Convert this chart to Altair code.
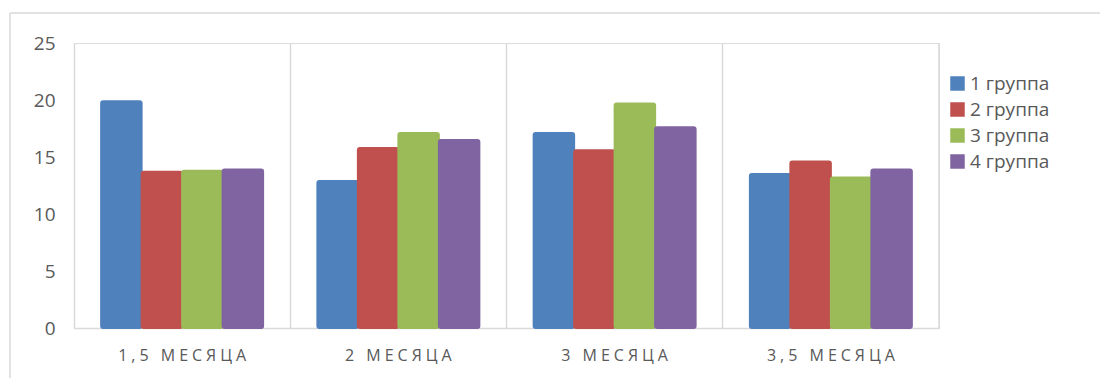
import altair as alt
import pandas as pd

categories = ["1,5 МЕСЯЦА", "2 МЕСЯЦА", "3 МЕСЯЦА", "3,5 МЕСЯЦА"]
groups = ["1 группа", "2 группа", "3 группа", "4 группа"]
g1 = [19.9, 12.9, 17.1, 13.5]
g2 = [13.7, 15.8, 15.6, 14.6]
g3 = [13.8, 17.1, 19.7, 13.2]
g4 = [13.9, 16.5, 17.6, 13.9]
colors = ["#4F81BD", "#C0504D", "#9BBB59", "#8064A2"]
y_ticks = [0, 5, 10, 15, 20, 25]

rows = []
for gname, vals in zip(groups, [g1, g2, g3, g4]):
    for c, v in zip(categories, vals):
        rows.append({"period": c, "group": gname, "value": v})
df = pd.DataFrame(rows)

W, H = 865, 285
FONT = "Open Sans"
GRAY = "#595959"

bars = alt.Chart(df).mark_bar(cornerRadius=2, width=alt.RelativeBandSize(1.0), strokeWidth=2).encode(
    x=alt.X("period:N", sort=categories, title=None,
            scale=alt.Scale(paddingInner=0, paddingOuter=0),
            axis=alt.Axis(labelAngle=0, labelFont=FONT, labelFontSize=16, labelColor=GRAY,
                          labelPadding=19, ticks=False, domainColor="#D9D9D9", domainWidth=1.5,
                          grid=True, gridColor="#D9D9D9", gridWidth=1.5, bandPosition=0,
                          labelExpr="join(split(datum.label, ''), '\u2005')")),
    xOffset=alt.XOffset("group:N", sort=groups,
                        scale=alt.Scale(paddingInner=0, paddingOuter=0.67)),
    y=alt.Y("value:Q", title=None,
            scale=alt.Scale(domain=[0, 25], nice=False),
            axis=alt.Axis(values=y_ticks, labelFont=FONT, labelFontSize=19, labelColor=GRAY,
                          labelPadding=19, ticks=False, domain=False, grid=False)),
    color=alt.Color("group:N", sort=groups,
                    scale=alt.Scale(domain=groups, range=colors),
                    legend=alt.Legend(title=None, orient="none", legendX=874, legendY=31,
                                      symbolType="square", symbolSize=210,
                                      symbolStrokeWidth=0, symbolOpacity=1,
                                      labelFont=FONT, labelFontSize=19, labelColor=GRAY,
                                      rowPadding=6, labelOffset=3)),
    stroke=alt.Stroke("group:N", sort=groups,
                      scale=alt.Scale(domain=groups, range=colors), legend=None),
)

right_grid = alt.Chart(pd.DataFrame({"k": [0]})).mark_rule(color="#D9D9D9", strokeWidth=1.5).encode(
    x=alt.value(W), y=alt.value(0), y2=alt.value(H)
)
frame_top = alt.Chart(pd.DataFrame({"k": [0]})).mark_rule(color="#D9D9D9", strokeWidth=1.5, clip=False).encode(
    x=alt.value(-64), x2=alt.value(1100), y=alt.value(-30)
)
frame_left = alt.Chart(pd.DataFrame({"k": [0]})).mark_rule(color="#D9D9D9", strokeWidth=1.5, clip=False).encode(
    x=alt.value(-64), y=alt.value(-30), y2=alt.value(400)
)

chart = alt.layer(frame_top, frame_left, right_grid, bars).properties(
    width=W, height=H,
    autosize=alt.AutoSizeParams(type="none"),
    padding={"left": 74, "top": 43, "right": 161, "bottom": 50},
).configure_view(stroke=None).configure_scale(
    offsetBandPaddingInner=0
).configure(background="white")

chart.save("out.html", embed_options={"renderer": "svg", "actions": False})
